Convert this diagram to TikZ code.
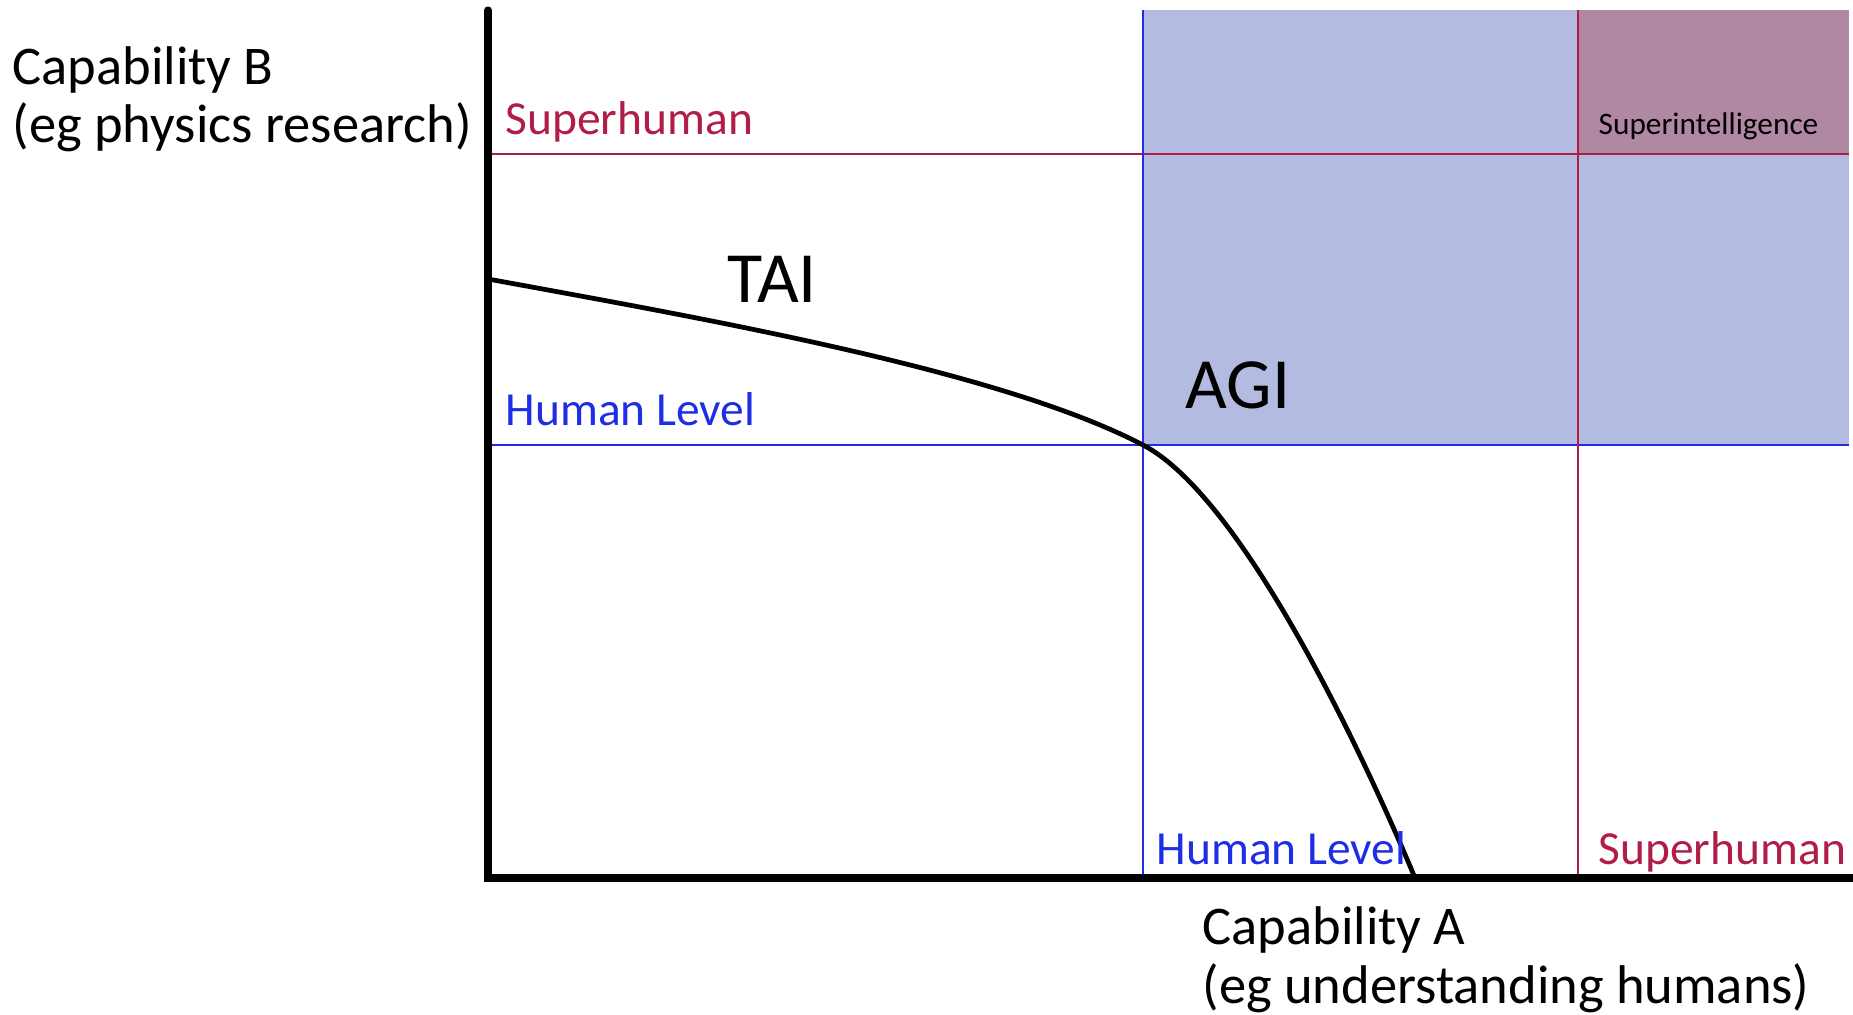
\documentclass[tikz,border=0pt]{standalone}
\usepackage{fontspec}
\setmainfont{Carlito}
\usetikzlibrary{positioning}

\definecolor{superred}{RGB}{176,30,72}
\definecolor{humanblue}{RGB}{30,45,230}
\definecolor{agifill}{RGB}{180,187,224}
\definecolor{sifill}{RGB}{176,136,164}

\tikzset{
  axisline/.style = {line width=2pt, line cap=round},
  gridred/.style  = {superred, line width=0.55pt},
  gridblue/.style = {humanblue, line width=0.55pt},
  frontier/.style = {line width=1.35pt},
  levellabel/.style = {inner sep=0pt, anchor=base west, font=\fontsize{13.5}{16}\selectfont},
  axislabel/.style  = {inner sep=0pt, anchor=base west, align=left, font=\fontsize{15.5}{16.6}\selectfont},
  biglabel/.style   = {inner sep=0pt, anchor=base west, font=\fontsize{20.5}{24}\selectfont}
}

\begin{document}
\begin{tikzpicture}[x=0.01cm, y=-0.01cm]
    \useasboundingbox (0,0) rectangle (1853,1015);

    % corners of the chart
    \coordinate (O)    at (488,878);
    \coordinate (ytop) at (488,10);
    \coordinate (xend) at (1853,878);

    % shaded regions
    \fill[agifill] (1143,10) rectangle (1849,445);
    \fill[sifill]  (1578,10) rectangle (1849,154);

    % level lines
    \draw[gridred]  (488,154) -- (1849,154);
    \draw[gridblue] (488,445) -- (1849,445);
    \draw[gridblue] (1143,10) -- (1143,878);
    \draw[gridred]  (1578,10) -- (1578,878);

    % TAI frontier
    \draw[frontier] (488,279) .. controls (700,318) and (1000,370) .. (1143,445)
                              .. controls (1243,497) and (1365,758) .. (1415,878);

    % axes
    \draw[axisline] (ytop) -- (O) -- (xend);

    \node[levellabel, text=superred]  (superB) at (505,134)  {Superhuman};
    \node[levellabel, text=humanblue] (humanB) at (505,425)  {Human Level};
    \node[levellabel, text=humanblue] (humanA) at (1156,864) {Human Level};
    \node[levellabel, text=superred]  (superA) at (1598,864) {Superhuman};
    \node[inner sep=0pt, anchor=base west, font=\fontsize{8.9}{10}\selectfont] (si) at (1598,134) {Superintelligence};

    \node[biglabel] (tai) at (727,302) {TAI};
    \node[biglabel] (agi) at (1185,408) {AGI};

    % base anchor sits on the last line
    \node[axislabel] (capB) at (12,143)   {Capability B\\(eg physics research)};
    \node[axislabel] (capA) at (1202,1003) {Capability A\\(eg understanding humans)};
\end{tikzpicture}
\end{document}
